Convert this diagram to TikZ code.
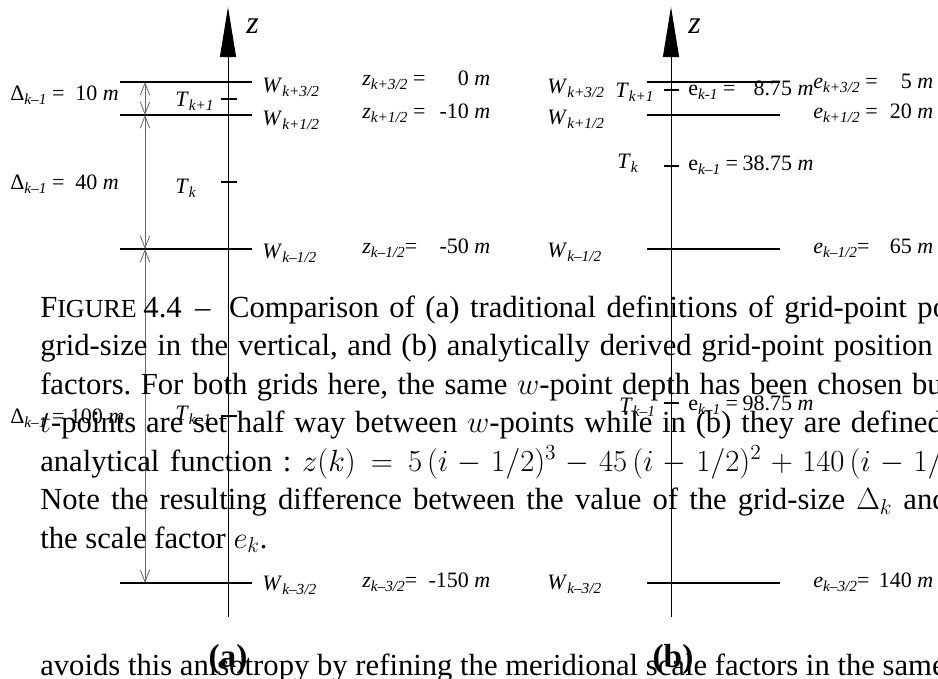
\documentclass[tikz,border=0pt]{standalone}
\usepackage{fix-cm}
\usepackage[no-math]{fontspec}
\setmainfont{Liberation Serif}
\usetikzlibrary{arrows.meta}
\newcommand{\lblfont}{\fontsize{16.5}{19}\selectfont}
\newcommand{\capfont}{\fontsize{23}{28.875}\selectfont\frenchspacing}
\newcommand{\capsc}{\fontsize{19.5}{20}\selectfont}
\newcommand{\sbs}[1]{\raisebox{-3.6pt}{\fontsize{11.5}{12}\selectfont\itshape #1}}
\newcommand{\lab}[2]{\textit{#1}\sbs{#2}}
\newcommand{\eqbox}[3]{\makebox[#1][l]{#2\hfill #3}}
\newcommand{\capline}[2][758pt]{\makebox[#1][s]{#2}}

\begin{document}
\begin{tikzpicture}[
    x=0.75pt, y=-0.75pt,
    wline/.style={line width=1.5pt},
    tpoint/.style={line width=1.5pt},
    axisline/.style={line width=0.75pt, -{Triangle[length=37.5pt,width=12pt]}},
    dimarrow/.style={black!60, line width=0.6pt, {Straight Barb[length=9pt,width=7pt]}-{Straight Barb[length=9pt,width=7pt]}},
    lbl/.style={anchor=base west, inner sep=0pt, font=\lblfont},
    zlbl/.style={anchor=base west, inner sep=0pt, font=\fontsize{24}{26}\selectfont\itshape},
    captxt/.style={anchor=base west, inner sep=0pt, align=left, font=\capfont},
    sublbl/.style={anchor=base, inner sep=0pt, font=\fontsize{25}{30}\selectfont\bfseries}
]
\useasboundingbox (0,0) rectangle (938,678);
\clip (0,0) rectangle (938,678);

% (a) traditional grid
\coordinate (abot) at (228,617);
\coordinate (atop) at (228,7);
\draw[axisline] (abot) -- (atop);
\node[zlbl] (az) at (246,33) {z};
\foreach \y [count=\i] in {82,115,249,583} {
  \coordinate (aw\i l) at (120,\y);
  \coordinate (aw\i r) at (252,\y);
  \coordinate (ad\i) at (145,\y);
  \draw[wline] (aw\i l) -- (aw\i r);
}
\foreach \y [count=\i] in {98.5,182,416} {
  \coordinate (at\i l) at (221,\y);
  \coordinate (at\i r) at (237,\y);
  \draw[tpoint] (at\i l) -- (at\i r);
}
\draw[dimarrow] (ad1) -- (ad2);
\draw[dimarrow] (ad2) -- (ad3);
\draw[dimarrow] (ad3) -- (ad4);
\node[lbl] (adel1) at (10,100) {Δ\sbs{k–1} = \ 10 \textit{m}};
\node[lbl] (adel2) at (10,189) {Δ\sbs{k–1} = \ 40 \textit{m}};
\node[lbl] (adel3) at (10,423) {Δ\sbs{k–1} = 100 \textit{m}};
\node[lbl] (aT1) at (175,106) {\lab{T}{k+1}};
\node[lbl] (aT2) at (175,193) {\lab{T}{k}};
\node[lbl] (aT3) at (175,420) {\lab{T}{k–1}};
\node[lbl] (aW1) at (262,92) {\lab{W}{k+3/2}};
\node[lbl] (aW2) at (262,125) {\lab{W}{k+1/2}};
\node[lbl] (aW3) at (262,258) {\lab{W}{k–1/2}};
\node[lbl] (aW4) at (262,590) {\lab{W}{k–3/2}};
\node[lbl] (az1) at (362,85) {\eqbox{96pt}{\lab{z}{k+3/2} =}{0 \textit{m}}};
\node[lbl] (az2) at (362,118) {\eqbox{96pt}{\lab{z}{k+1/2} =}{-10 \textit{m}}};
\node[lbl] (az3) at (362,253) {\eqbox{96pt}{\lab{z}{k–1/2}=}{-50 \textit{m}}};
\node[lbl] (az4) at (362,587) {\eqbox{96pt}{\lab{z}{k–3/2}=}{-150 \textit{m}}};

% (b) analytical grid
\coordinate (bbot) at (671,617);
\coordinate (btop) at (671,7);
\draw[axisline] (bbot) -- (btop);
\node[zlbl] (bz) at (688,33) {z};
\foreach \y [count=\i] in {82,115,249,583} {
  \coordinate (bw\i l) at (647,\y);
  \coordinate (bw\i r) at (780,\y);
  \draw[wline] (bw\i l) -- (bw\i r);
}
\foreach \y [count=\i] in {90,166,403} {
  \coordinate (bt\i l) at (664,\y);
  \coordinate (bt\i r) at (679,\y);
  \draw[tpoint] (bt\i l) -- (bt\i r);
}
\node[lbl] (bW1) at (547,93) {\lab{W}{k+3/2}};
\node[lbl] (bW2) at (547,124) {\lab{W}{k+1/2}};
\node[lbl] (bW3) at (547,257) {\lab{W}{k–1/2}};
\node[lbl] (bW4) at (547,589) {\lab{W}{k–3/2}};
\node[lbl] (bT1) at (615,97) {\lab{T}{k+1}};
\node[lbl] (bT2) at (617,168) {\lab{T}{k}};
\node[lbl] (bT3) at (619,412) {\lab{T}{k–1}};
\node[lbl] (be1) at (688,95) {\eqbox{94pt}{e\sbs{k-1} =}{8.75 \textit{m}}};
\node[lbl] (be2) at (688,170) {\eqbox{94pt}{e\sbs{k–1} =}{38.75 \textit{m}}};
\node[lbl] (be3) at (688,410) {\eqbox{94pt}{e\sbs{k–1} =}{98.75 \textit{m}}};
\node[lbl] (bew1) at (813,88) {\eqbox{90pt}{\lab{e}{k+3/2} =}{5 \textit{m}}};
\node[lbl] (bew2) at (813,118) {\eqbox{90pt}{\lab{e}{k+1/2} =}{20 \textit{m}}};
\node[lbl] (bew3) at (813,253) {\eqbox{90pt}{\lab{e}{k–1/2}=}{65 \textit{m}}};
\node[lbl] (bew4) at (813,587) {\eqbox{90pt}{\lab{e}{k–3/2}=}{140 \textit{m}}};

% caption and running text
\node[captxt] (cap) at (40,548) {\capline[773pt]{F{\capsc IGURE}\kern5pt 4.4\kern10pt--\kern14pt Comparison of (a) traditional definitions of grid-point position and}\\
\capline[763pt]{grid-size in the vertical, and (b) analytically derived grid-point position and scale}\\
\capline[776pt]{factors. For both grids here, the same $w$-point depth has been chosen but in (a) the}\\
\capline{$t$-points are set half way between $w$-points while in (b) they are defined from an}\\
\capline[765pt]{analytical function : $z(k)=5\,(i-1/2)^3-45\,(i-1/2)^2+140\,(i-1/2)-150$.}\\
\capline[765pt]{Note the resulting difference between the value of the grid-size $\Delta_k$ and those of}\\
the scale factor $e_k$.};
\node[sublbl] (suba) at (228,667) {(a)};
\node[sublbl] (subb) at (673,667) {(b)};
\node[captxt] (body) at (40,675) {avoids this anisotropy by refining the meridional scale factors in the same way};
\end{tikzpicture}
\end{document}
